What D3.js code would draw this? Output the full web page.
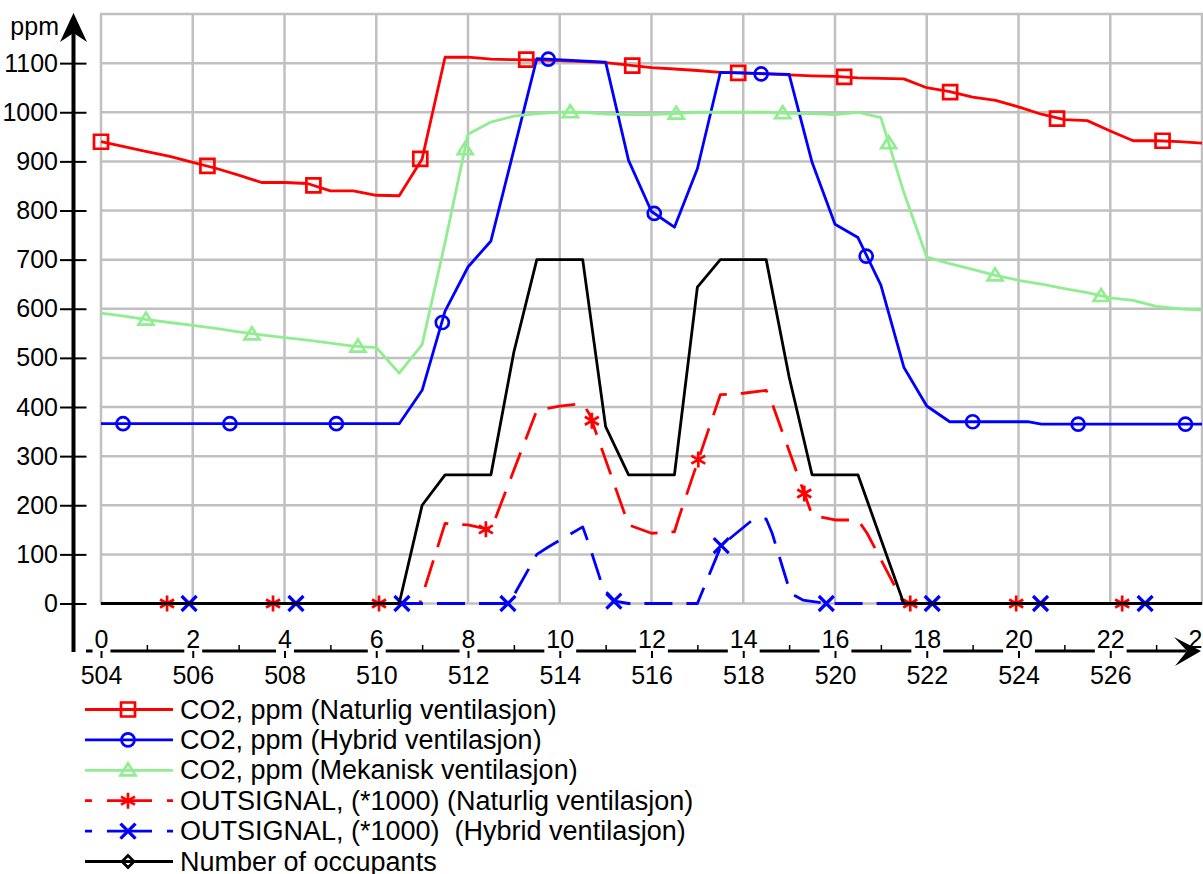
<!DOCTYPE html>
<html>
<head>
<meta charset="utf-8">
<script src="https://cdn.jsdelivr.net/npm/d3@7"></script>
<style>
body { margin: 0; background: #fff; }
svg { display: block; font-family: "Liberation Sans", Arial, sans-serif; }
</style>
</head>
<body>
<div id="chart"></div>
<script>
// hours of the day on the x axis, ppm on the y axis
const hourTicks = [0, 2, 4, 6, 8, 10, 12, 14, 16, 18, 20, 22, 24];
const hourMinorTicks = [1, 3, 5, 7, 9, 11, 13, 15, 17, 19, 21, 23];
const simHourTicks = [0, 2, 4, 6, 8, 10, 12, 14, 16, 18, 20, 22];
const simHourLabels = [504, 506, 508, 510, 512, 514, 516, 518, 520, 522, 524, 526];
const ppmTicks = [0, 100, 200, 300, 400, 500, 600, 700, 800, 900, 1000, 1100];
const ppmGrid = [0, 100, 200, 300, 400, 500, 600, 700, 800, 900, 1000, 1100, 1200];

// [hour, value]
const co2Naturlig = [[0,940],[0.5,930],[1,920],[1.5,910],[2,898],[2.5,886],[3,872],[3.5,857],[4,857],[4.5,855],
  [5,840],[5.5,840],[6,831],[6.5,830],[7,905],[7.5,1112],[8,1112],[8.5,1108],[9,1107],[9.5,1106],[10,1105],
  [10.5,1103],[11,1101],[11.5,1096],[12,1091],[12.5,1088],[13,1085],[13.5,1081],[14,1080],[14.5,1078],
  [15,1076],[15.5,1074],[16,1073],[16.5,1070],[17,1069],[17.5,1068],[18,1050],[18.5,1042],[19,1031],
  [19.5,1024],[20,1011],[20.5,996],[21,985],[21.5,983],[22,962],[22.5,942],[23,942],[23.5,940],[24,937]];
const co2NaturligMarks = [[0,940],[2.32,891],[4.63,851],[6.96,905],[9.27,1107],[11.58,1095],[13.89,1080],
  [16.2,1072],[18.51,1041],[20.84,987],[23.14,942]];

const co2Hybrid = [[0,366],[6.5,366],[7,434],[7.5,595],[8,685],[8.5,738],[9.5,1109],[11,1102],[11.5,902],
  [12,798],[12.5,766],[13,885],[13.5,1081],[15,1077],[15.5,898],[16,772],[16.5,745],[17,648],[17.5,481],
  [18,402],[18.5,370],[20.2,370],[20.5,365],[24,365]];
const co2HybridMarks = [[0.48,366],[2.81,366],[5.13,366],[7.44,572],[9.75,1108],[12.06,794],[14.39,1078],
  [16.68,707],[19.0,370],[21.3,365],[23.64,365]];

const co2Mekanisk = [[0,591],[0.5,585],[1,578],[1.5,572],[2,566],[2.5,560],[3,553],[3.5,547],[4,541],
  [4.5,536],[5,530],[5.5,524],[6,521],[6.5,469],[7,527],[7.5,735],[8,955],[8.5,980],[9,992],[9.5,997],
  [10,1000],[10.5,1000],[11,996],[11.5,995],[12,995],[12.5,997],[13,1000],[13.5,1000],[14,1000],[14.5,1000],
  [15,998],[15.5,997],[16,995],[16.5,1000],[17,989],[17.5,837],[18,705],[18.5,692],[19,680],[19.5,668],
  [20,658],[20.5,650],[21,641],[21.5,633],[22,622],[22.5,617],[23,605],[23.5,600],[24,597]];
const co2MekaniskMarks = [[0.98,578],[3.29,548],[5.6,523],[7.94,925],[10.23,1000],[12.54,997],[14.86,998],
  [17.17,937],[19.49,668],[21.8,626]];

const outNaturlig = [[0,0],[6.95,0],[7.5,163],[8,160],[8.5,150],[9.5,393],[10,402],[10.5,407],[10.65,385],
  [11.5,160],[12,143],[12.5,146],[12.6,176],[13.5,425],[14,428],[14.5,434],[14.65,402],[15.5,180],[16,170],
  [16.5,170],[16.7,143],[17.5,0],[24,0]];
const outNaturligMarks = [[1.44,0],[3.75,0],[6.06,0],[8.39,151],[10.7,372],[13.02,293],[15.33,224],
  [17.64,0],[19.95,0],[22.26,0]];

const outHybrid = [[0,0],[8.9,0],[9.5,100],[9.75,115],[10.5,156],[10.62,125],[10.95,30],[11.2,5],[11.5,0],
  [13,0],[13.52,118],[14.2,170],[14.5,172],[14.63,143],[15.03,21],[15.3,7],[15.8,0],[24,0]];
const outHybridMarks = [[1.92,0],[4.25,0],[6.56,0],[8.87,0],[11.18,5],[13.52,118],[15.81,0],[18.12,0],
  [20.48,0],[22.76,0]];

const occupants = [[0,0],[6.5,0],[7,200],[7.5,262],[8.5,262],[9,512],[9.5,700],[10.5,700],[11,360],
  [11.5,262],[12.5,262],[13,644],[13.5,700],[14.5,700],[15,461],[15.5,262],[16.5,262],[17.5,0],[24,0]];

const seriesNames = [
  "CO2, ppm (Naturlig ventilasjon)",
  "CO2, ppm (Hybrid ventilasjon)",
  "CO2, ppm (Mekanisk ventilasjon)",
  "OUTSIGNAL, (*1000) (Naturlig ventilasjon)",
  "OUTSIGNAL, (*1000)  (Hybrid ventilasjon)",
  "Number of occupants"
];

const series = [
  {name: seriesNames[0], data: co2Naturlig, marks: co2NaturligMarks, color: "#ff0000", dash: null, marker: "square"},
  {name: seriesNames[1], data: co2Hybrid, marks: co2HybridMarks, color: "#0000ff", dash: null, marker: "circle"},
  {name: seriesNames[2], data: co2Mekanisk, marks: co2MekaniskMarks, color: "#90ee90", dash: null, marker: "triangle"},
  {name: seriesNames[3], data: outNaturlig, marks: outNaturligMarks, color: "#ff0000", dash: "28,14", marker: "star"},
  {name: seriesNames[4], data: outHybrid, marks: outHybridMarks, color: "#0000ff", dash: "28,14", marker: "x"},
  {name: seriesNames[5], data: occupants, marks: [], color: "#000000", dash: null, marker: "diamond"}
];

function markerPath(type) {
  if (type === "square") return "M-7,-7h14v14h-14Z";
  if (type === "circle") return "M6.5,0A6.5,6.5 0 1,1 -6.5,0A6.5,6.5 0 1,1 6.5,0Z";
  if (type === "triangle") return "M0,-7L7.5,5L-7.5,5Z";
  if (type === "star") return "M0,-8V8M-7,-4L7,4M-7,4L7,-4";
  if (type === "x") return "M-7.5,-7.5L7.5,7.5M-7.5,7.5L7.5,-7.5";
  return "M0,-6L6,0L0,6L-6,0Z";
}

const width = 1203, height = 874;
const svg = d3.select("#chart").append("svg")
  .attr("width", width)
  .attr("height", height);

const x = d3.scaleLinear().domain([0, 24]).range([101, 1202]);
const y = d3.scaleLinear().domain([0, 1200]).range([603.5, 14]);

// grid
svg.append("g").selectAll("line.v").data(hourTicks).join("line")
  .attr("x1", d => x(d)).attr("x2", d => x(d))
  .attr("y1", y(0)).attr("y2", y(1200))
  .attr("stroke", "#c0c0c0").attr("stroke-width", 2.5);
svg.append("g").selectAll("line.h").data(ppmGrid).join("line")
  .attr("x1", x(0) - 1).attr("x2", width)
  .attr("y1", d => y(d)).attr("y2", d => y(d))
  .attr("stroke", "#c0c0c0").attr("stroke-width", 2.5);

// series
const line = d3.line().x(d => x(d[0])).y(d => y(d[1]));
series.forEach(s => {
  svg.append("path")
    .datum(s.data)
    .attr("fill", "none")
    .attr("stroke", s.color)
    .attr("stroke-width", 2.8)
    .attr("stroke-linejoin", "round")
    .attr("stroke-dasharray", s.dash)
    .attr("d", line);
  svg.append("g").selectAll("path").data(s.marks).join("path")
    .attr("transform", d => "translate(" + x(d[0]) + "," + y(d[1]) + ")")
    .attr("d", markerPath(s.marker))
    .attr("fill", "none")
    .attr("stroke", s.color)
    .attr("stroke-width", s.marker === "x" ? 3.2 : 2.7);
});

// y axis
svg.append("line")
  .attr("x1", 73.5).attr("x2", 73.5).attr("y1", 30).attr("y2", 652)
  .attr("stroke", "#000").attr("stroke-width", 4);
const yAxis = svg.append("g")
  .attr("transform", "translate(73.5,0)")
  .call(d3.axisLeft(y).tickValues(ppmTicks).tickSize(0).tickPadding(15.5).tickFormat(d3.format("d")));
yAxis.attr("font-size", 25).attr("font-family", null);
yAxis.select(".domain").remove();
yAxis.selectAll(".tick line").attr("x1", -13.5).attr("x2", 13).attr("stroke", "#000").attr("stroke-width", 2);
yAxis.selectAll(".tick text").attr("fill", "#000");
svg.append("path")
  .attr("d", "M73.5,13L60,42L73.5,33L87,42Z")
  .attr("fill", "#000");
svg.append("text")
  .attr("x", 59).attr("y", 35)
  .attr("text-anchor", "end")
  .attr("font-size", 25)
  .text("ppm");

// x axis
const axisY = 651;
svg.append("line")
  .attr("x1", 86).attr("x2", 1192).attr("y1", axisY).attr("y2", axisY)
  .attr("stroke", "#000").attr("stroke-width", 3);
const minorAxis = svg.append("g")
  .attr("transform", "translate(0," + axisY + ")")
  .call(d3.axisTop(x).tickValues(hourMinorTicks).tickSize(6).tickFormat(""));
minorAxis.select(".domain").remove();
minorAxis.selectAll(".tick line").attr("stroke", "#000").attr("stroke-width", 1.5);

const topAxis = svg.append("g")
  .attr("transform", "translate(0," + axisY + ")")
  .call(d3.axisTop(x).tickValues(hourTicks).tickSize(0).tickPadding(3));
topAxis.attr("font-size", 25).attr("font-family", null);
topAxis.select(".domain").remove();
topAxis.selectAll(".tick text").attr("fill", "#000");
topAxis.selectAll(".tick").each(function () {
  const t = d3.select(this).select("text");
  const w = t.node().getComputedTextLength();
  d3.select(this).insert("rect", "text")
    .attr("x", -w / 2 - 2).attr("y", -23)
    .attr("width", w + 4).attr("height", 25)
    .attr("fill", "#fff");
});

const bottomAxis = svg.append("g")
  .attr("transform", "translate(0," + axisY + ")")
  .call(d3.axisBottom(x).tickValues(simHourTicks).tickSize(7).tickPadding(8)
    .tickFormat((d, i) => simHourLabels[i]));
bottomAxis.attr("font-size", 25).attr("font-family", null);
bottomAxis.select(".domain").remove();
bottomAxis.selectAll(".tick line").attr("stroke", "#000").attr("stroke-width", 2);
bottomAxis.selectAll(".tick text").attr("fill", "#000");

svg.append("path")
  .attr("d", "M1201,651L1174,637L1187,651L1175,666Z")
  .attr("fill", "#000");

// legend
const legend = svg.append("g");
series.forEach((s, i) => {
  const ly = 709.5 + i * 30.4;
  const row = legend.append("g").attr("transform", "translate(0," + ly + ")");
  row.append("line")
    .attr("x1", 85).attr("x2", 173).attr("y1", 0).attr("y2", 0)
    .attr("stroke", s.color).attr("stroke-width", 2.8)
    .attr("stroke-dasharray", s.dash ? "7,15,45,15,6" : null);
  row.append("path")
    .attr("transform", "translate(128,0)")
    .attr("d", markerPath(s.marker))
    .attr("fill", "none")
    .attr("stroke", s.color)
    .attr("stroke-width", s.marker === "x" ? 3.2 : 2.7);
  row.append("text")
    .attr("x", 180).attr("y", 9)
    .attr("font-size", 27)
    .style("white-space", "pre")
    .text(s.name);
});
</script>
</body>
</html>
